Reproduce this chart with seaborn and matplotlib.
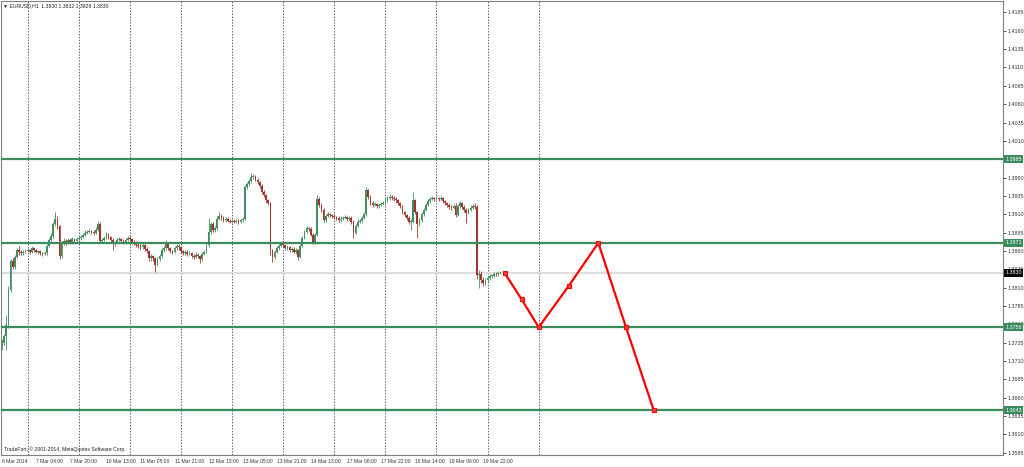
import numpy as np
import pandas as pd
import matplotlib
matplotlib.use("Agg")
import matplotlib.pyplot as plt
import matplotlib.transforms as mtransforms
import seaborn as sns

# EURUSD H1 candles, 6 Mar 2014 12:00 .. 20 Mar 2014 05:00
opens = [
    1.3729, 1.3735, 1.3744, 1.3759, 1.3807, 1.3846, 1.3838, 1.3852, 1.3861, 1.3859,
    1.3857, 1.3859, 1.3860, 1.3861, 1.3859, 1.3864, 1.3861, 1.3859, 1.3860, 1.3857,
    1.3856, 1.3857, 1.3867, 1.3875, 1.3880, 1.3897, 1.3904, 1.3894, 1.3853, 1.3871,
    1.3874, 1.3871, 1.3875, 1.3872, 1.3876, 1.3874, 1.3876, 1.3877, 1.3879, 1.3882,
    1.3885, 1.3886, 1.3887, 1.3886, 1.3885, 1.3889, 1.3897, 1.3874, 1.3875, 1.3878,
    1.3883, 1.3879, 1.3875, 1.3870, 1.3871, 1.3875, 1.3876, 1.3874, 1.3872, 1.3875,
    1.3878, 1.3876, 1.3872, 1.3871, 1.3868, 1.3867, 1.3865, 1.3868, 1.3863, 1.3860,
    1.3850, 1.3853, 1.3850, 1.3841, 1.3849, 1.3853, 1.3861, 1.3864, 1.3870, 1.3864,
    1.3860, 1.3859, 1.3864, 1.3867, 1.3865, 1.3860, 1.3857, 1.3859, 1.3856, 1.3857,
    1.3853, 1.3852, 1.3855, 1.3853, 1.3849, 1.3856, 1.3859, 1.3868, 1.3886, 1.3897,
    1.3889, 1.3891, 1.3904, 1.3908, 1.3905, 1.3902, 1.3904, 1.3901, 1.3900, 1.3901,
    1.3900, 1.3901, 1.3900, 1.3902, 1.3904, 1.3947, 1.3951, 1.3955, 1.3961, 1.3962,
    1.3957, 1.3954, 1.3949, 1.3940, 1.3936, 1.3929, 1.3925, 1.3861, 1.3852, 1.3859,
    1.3864, 1.3867, 1.3871, 1.3868, 1.3864, 1.3865, 1.3861, 1.3863, 1.3859, 1.3861,
    1.3852, 1.3867, 1.3878, 1.3886, 1.3891, 1.3890, 1.3882, 1.3872, 1.3882, 1.3931,
    1.3923, 1.3916, 1.3902, 1.3908, 1.3910, 1.3909, 1.3908, 1.3906, 1.3905, 1.3902,
    1.3904, 1.3905, 1.3906, 1.3904, 1.3905, 1.3900, 1.3885, 1.3894, 1.3900, 1.3901,
    1.3905, 1.3910, 1.3943, 1.3934, 1.3925, 1.3923, 1.3924, 1.3921, 1.3923, 1.3924,
    1.3925, 1.3929, 1.3932, 1.3934, 1.3932, 1.3931, 1.3929, 1.3925, 1.3921, 1.3913,
    1.3909, 1.3905, 1.3900, 1.3900, 1.3929, 1.3913, 1.3897, 1.3902, 1.3910, 1.3916,
    1.3923, 1.3928, 1.3931, 1.3932, 1.3931, 1.3932, 1.3931, 1.3932, 1.3928, 1.3925,
    1.3923, 1.3920, 1.3919, 1.3921, 1.3909, 1.3921, 1.3925, 1.3920, 1.3916, 1.3912,
    1.3916, 1.3919, 1.3921, 1.3920, 1.3827, 1.3829, 1.3820, 1.3816, 1.3820, 1.3823,
    1.3826, 1.3826, 1.3829, 1.3828, 1.3830,
]
highs = [
    1.3740, 1.3747, 1.3773, 1.3812, 1.3849, 1.3850, 1.3855, 1.3864, 1.3867, 1.3862,
    1.3861, 1.3863, 1.3864, 1.3863, 1.3867, 1.3866, 1.3863, 1.3862, 1.3862, 1.3859,
    1.3860, 1.3869, 1.3878, 1.3884, 1.3900, 1.3913, 1.3907, 1.3896, 1.3874, 1.3878,
    1.3876, 1.3878, 1.3877, 1.3879, 1.3878, 1.3879, 1.3880, 1.3882, 1.3885, 1.3888,
    1.3889, 1.3890, 1.3889, 1.3888, 1.3892, 1.3901, 1.3899, 1.3878, 1.3881, 1.3886,
    1.3885, 1.3881, 1.3877, 1.3874, 1.3878, 1.3879, 1.3878, 1.3876, 1.3878, 1.3881,
    1.3880, 1.3878, 1.3875, 1.3873, 1.3871, 1.3870, 1.3871, 1.3870, 1.3865, 1.3862,
    1.3856, 1.3855, 1.3852, 1.3852, 1.3856, 1.3864, 1.3867, 1.3875, 1.3872, 1.3866,
    1.3862, 1.3867, 1.3870, 1.3869, 1.3867, 1.3862, 1.3862, 1.3861, 1.3860, 1.3859,
    1.3856, 1.3858, 1.3857, 1.3855, 1.3859, 1.3862, 1.3871, 1.3905, 1.3900, 1.3899,
    1.3894, 1.3907, 1.3913, 1.3910, 1.3907, 1.3906, 1.3906, 1.3903, 1.3903, 1.3903,
    1.3903, 1.3903, 1.3904, 1.3906, 1.3950, 1.3954, 1.3958, 1.3966, 1.3965, 1.3964,
    1.3959, 1.3956, 1.3951, 1.3943, 1.3938, 1.3931, 1.3927, 1.3863, 1.3862, 1.3867,
    1.3870, 1.3874, 1.3873, 1.3870, 1.3868, 1.3867, 1.3866, 1.3865, 1.3864, 1.3863,
    1.3869, 1.3881, 1.3889, 1.3894, 1.3893, 1.3892, 1.3884, 1.3885, 1.3936, 1.3933,
    1.3925, 1.3918, 1.3911, 1.3913, 1.3912, 1.3911, 1.3910, 1.3908, 1.3907, 1.3907,
    1.3908, 1.3909, 1.3908, 1.3908, 1.3907, 1.3902, 1.3897, 1.3903, 1.3904, 1.3908,
    1.3913, 1.3947, 1.3945, 1.3936, 1.3928, 1.3927, 1.3926, 1.3926, 1.3927, 1.3928,
    1.3932, 1.3935, 1.3937, 1.3936, 1.3935, 1.3933, 1.3931, 1.3927, 1.3923, 1.3915,
    1.3911, 1.3907, 1.3903, 1.3940, 1.3931, 1.3915, 1.3905, 1.3913, 1.3919, 1.3926,
    1.3931, 1.3934, 1.3935, 1.3934, 1.3935, 1.3934, 1.3935, 1.3934, 1.3930, 1.3927,
    1.3925, 1.3922, 1.3924, 1.3926, 1.3924, 1.3928, 1.3927, 1.3922, 1.3918, 1.3919,
    1.3922, 1.3924, 1.3926, 1.3922, 1.3834, 1.3833, 1.3824, 1.3823, 1.3826, 1.3829,
    1.3829, 1.3832, 1.3831, 1.3833, 1.3832,
]
lows = [
    1.3725, 1.3732, 1.3725, 1.3755, 1.3804, 1.3835, 1.3836, 1.3850, 1.3855, 1.3855,
    1.3855, 1.3857, 1.3858, 1.3856, 1.3857, 1.3859, 1.3857, 1.3856, 1.3855, 1.3853,
    1.3854, 1.3855, 1.3865, 1.3872, 1.3878, 1.3894, 1.3890, 1.3849, 1.3850, 1.3868,
    1.3868, 1.3869, 1.3869, 1.3870, 1.3871, 1.3872, 1.3873, 1.3875, 1.3877, 1.3880,
    1.3883, 1.3884, 1.3883, 1.3882, 1.3883, 1.3887, 1.3871, 1.3871, 1.3873, 1.3876,
    1.3876, 1.3872, 1.3861, 1.3867, 1.3869, 1.3873, 1.3871, 1.3869, 1.3870, 1.3873,
    1.3873, 1.3869, 1.3868, 1.3865, 1.3864, 1.3862, 1.3863, 1.3860, 1.3857, 1.3846,
    1.3847, 1.3846, 1.3831, 1.3839, 1.3846, 1.3851, 1.3859, 1.3862, 1.3861, 1.3857,
    1.3856, 1.3857, 1.3862, 1.3862, 1.3857, 1.3854, 1.3855, 1.3853, 1.3854, 1.3850,
    1.3849, 1.3850, 1.3850, 1.3844, 1.3847, 1.3854, 1.3857, 1.3866, 1.3883, 1.3886,
    1.3886, 1.3889, 1.3902, 1.3902, 1.3899, 1.3900, 1.3899, 1.3898, 1.3898, 1.3898,
    1.3898, 1.3897, 1.3898, 1.3900, 1.3902, 1.3944, 1.3948, 1.3953, 1.3958, 1.3955,
    1.3951, 1.3946, 1.3937, 1.3933, 1.3926, 1.3922, 1.3855, 1.3845, 1.3849, 1.3857,
    1.3862, 1.3865, 1.3866, 1.3861, 1.3862, 1.3859, 1.3859, 1.3857, 1.3856, 1.3848,
    1.3850, 1.3865, 1.3876, 1.3884, 1.3887, 1.3880, 1.3870, 1.3870, 1.3880, 1.3920,
    1.3913, 1.3899, 1.3900, 1.3906, 1.3906, 1.3905, 1.3903, 1.3902, 1.3899, 1.3900,
    1.3902, 1.3903, 1.3901, 1.3902, 1.3897, 1.3878, 1.3883, 1.3892, 1.3898, 1.3899,
    1.3903, 1.3908, 1.3931, 1.3922, 1.3920, 1.3921, 1.3918, 1.3919, 1.3921, 1.3922,
    1.3923, 1.3927, 1.3930, 1.3929, 1.3928, 1.3926, 1.3922, 1.3918, 1.3910, 1.3906,
    1.3902, 1.3897, 1.3889, 1.3898, 1.3910, 1.3878, 1.3894, 1.3900, 1.3908, 1.3914,
    1.3921, 1.3926, 1.3929, 1.3928, 1.3929, 1.3928, 1.3929, 1.3925, 1.3922, 1.3920,
    1.3917, 1.3916, 1.3917, 1.3906, 1.3907, 1.3919, 1.3917, 1.3913, 1.3898, 1.3910,
    1.3914, 1.3917, 1.3917, 1.3822, 1.3810, 1.3817, 1.3812, 1.3813, 1.3818, 1.3821,
    1.3823, 1.3824, 1.3826, 1.3826, 1.3829,
]
closes = [
    1.3735, 1.3744, 1.3759, 1.3807, 1.3846, 1.3838, 1.3852, 1.3861, 1.3859, 1.3857,
    1.3859, 1.3860, 1.3861, 1.3859, 1.3864, 1.3861, 1.3859, 1.3860, 1.3857, 1.3856,
    1.3857, 1.3867, 1.3875, 1.3880, 1.3897, 1.3904, 1.3894, 1.3853, 1.3871, 1.3874,
    1.3871, 1.3875, 1.3872, 1.3876, 1.3874, 1.3876, 1.3877, 1.3879, 1.3882, 1.3885,
    1.3886, 1.3887, 1.3886, 1.3885, 1.3889, 1.3897, 1.3874, 1.3875, 1.3878, 1.3883,
    1.3879, 1.3875, 1.3870, 1.3871, 1.3875, 1.3876, 1.3874, 1.3872, 1.3875, 1.3878,
    1.3876, 1.3872, 1.3871, 1.3868, 1.3867, 1.3865, 1.3868, 1.3863, 1.3860, 1.3850,
    1.3853, 1.3850, 1.3841, 1.3849, 1.3853, 1.3861, 1.3864, 1.3870, 1.3864, 1.3860,
    1.3859, 1.3864, 1.3867, 1.3865, 1.3860, 1.3857, 1.3859, 1.3856, 1.3857, 1.3853,
    1.3852, 1.3855, 1.3853, 1.3849, 1.3856, 1.3859, 1.3868, 1.3886, 1.3897, 1.3889,
    1.3891, 1.3904, 1.3908, 1.3905, 1.3902, 1.3904, 1.3901, 1.3900, 1.3901, 1.3900,
    1.3901, 1.3900, 1.3902, 1.3904, 1.3947, 1.3951, 1.3955, 1.3961, 1.3962, 1.3957,
    1.3954, 1.3949, 1.3940, 1.3936, 1.3929, 1.3925, 1.3861, 1.3852, 1.3859, 1.3864,
    1.3867, 1.3871, 1.3868, 1.3864, 1.3865, 1.3861, 1.3863, 1.3859, 1.3861, 1.3852,
    1.3867, 1.3878, 1.3886, 1.3891, 1.3890, 1.3882, 1.3872, 1.3882, 1.3931, 1.3923,
    1.3916, 1.3902, 1.3908, 1.3910, 1.3909, 1.3908, 1.3906, 1.3905, 1.3902, 1.3904,
    1.3905, 1.3906, 1.3904, 1.3905, 1.3900, 1.3885, 1.3894, 1.3900, 1.3901, 1.3905,
    1.3910, 1.3943, 1.3934, 1.3925, 1.3923, 1.3924, 1.3921, 1.3923, 1.3924, 1.3925,
    1.3929, 1.3932, 1.3934, 1.3932, 1.3931, 1.3929, 1.3925, 1.3921, 1.3913, 1.3909,
    1.3905, 1.3900, 1.3900, 1.3929, 1.3913, 1.3897, 1.3902, 1.3910, 1.3916, 1.3923,
    1.3928, 1.3931, 1.3932, 1.3931, 1.3932, 1.3931, 1.3932, 1.3928, 1.3925, 1.3923,
    1.3920, 1.3919, 1.3921, 1.3909, 1.3921, 1.3925, 1.3920, 1.3916, 1.3912, 1.3916,
    1.3919, 1.3921, 1.3920, 1.3827, 1.3829, 1.3820, 1.3816, 1.3820, 1.3823, 1.3826,
    1.3826, 1.3829, 1.3828, 1.3830, 1.3830,
]

# horizontal support / resistance levels and their labels
levels = [1.3985, 1.3871, 1.3756, 1.3643]
level_labels = ["1.3985", "1.3871", "1.3756", "1.3643"]
bid_price = 1.3830

# hand drawn forecast path (bar index, price)
fc_bars = [236, 244, 252, 266, 280, 293, 306]
fc_prices = [1.3830, 1.3794, 1.3756, 1.3812, 1.3871, 1.3756, 1.3643]

# day separators (bar index of each midnight)
day_bars = [12, 36, 60, 84, 108, 132, 156, 180, 204, 228, 252]

# time axis labels
xtick_bars = [0, 16, 32, 49, 65, 81, 97, 113, 129, 145, 162, 178, 194, 210, 226]
xtick_labels = ["6 Mar 2014", "7 Mar 04:00", "7 Mar 20:00", "10 Mar 13:00",
                "11 Mar 05:00", "11 Mar 21:00", "12 Mar 13:00", "13 Mar 05:00",
                "13 Mar 21:00", "14 Mar 13:00", "17 Mar 06:00", "17 Mar 22:00",
                "18 Mar 14:00", "19 Mar 06:00", "19 Mar 22:00"]

# price axis labels
ytick_values = [1.3585, 1.3610, 1.3635, 1.3660, 1.3685, 1.3710, 1.3735, 1.3760,
                1.3785, 1.3810, 1.3835, 1.3860, 1.3885, 1.3910, 1.3935, 1.3960,
                1.3985, 1.4010, 1.4035, 1.4060, 1.4085, 1.4110, 1.4135, 1.4160,
                1.4185]
ytick_labels = ["%.4f" % v for v in ytick_values]

df = pd.DataFrame({"open": opens, "high": highs, "low": lows, "close": closes})
df["bar"] = np.arange(len(df))
df["up"] = df["close"] >= df["open"]

UP = "#3f8f5f"
DOWN = "#a3342c"
LEVEL = "#3a8c5c"

sns.set_style("white")
plt.rcParams['font.family'] = ['Liberation Sans', 'DejaVu Sans']

fig = plt.figure(figsize=(10.24, 4.67), dpi=100)
ax = fig.add_axes([1 / 1024, 12 / 467, 1002 / 1024, 454 / 467])

# day separators
for b in day_bars:
    ax.axvline(b, color="#666666", lw=0.7, ls=(0, (1.5, 1.5)), zorder=0.5)

# bid line
ax.axhline(bid_price, color="#dddddd", lw=1.4, zorder=0.6)

# candles
colors = np.where(df["up"], UP, DOWN)
ax.vlines(df["bar"], df["low"], df["high"], colors=colors, lw=0.7, alpha=0.85, zorder=2)
body_lo = np.minimum(df["open"], df["close"])
body_h = np.maximum(np.abs(df["close"] - df["open"]), 0.00008)
ax.bar(df["bar"], body_h, bottom=body_lo, width=0.8, color=colors, linewidth=0, zorder=2.5)

# horizontal levels
for lv in levels:
    ax.axhline(lv, color=LEVEL, lw=1.6, zorder=3)

# forecast path
sns.lineplot(x=fc_bars, y=fc_prices, ax=ax, color="#ff0000", lw=1.6, marker="s",
             markersize=3.2, markeredgecolor="#ff0000", markerfacecolor="#ff4040",
             markeredgewidth=0.8, zorder=5, sort=False)

ax.set_xlim(-0.47, 470)
ax.set_ylim(1.35820, 1.42006)

ax.yaxis.tick_right()
ax.set_yticks(ytick_values)
ax.set_yticklabels(ytick_labels)
ax.set_xticks(xtick_bars)
ax.set_xticklabels(xtick_labels, ha="left")
ax.tick_params(axis="y", direction="out", length=2, width=0.6, pad=1,
               labelsize=3.9, colors="#333333")
ax.tick_params(axis="x", direction="out", length=2, width=0.6, pad=1,
               labelsize=3.6, colors="#333333")
ax.set_xlabel("")
ax.set_ylabel("")
for s in ax.spines.values():
    s.set_color("#808080")
    s.set_linewidth(0.8)

# price boxes on the right scale
trans = mtransforms.blended_transform_factory(ax.transAxes, ax.transData)
for lv, txt in zip(levels, level_labels):
    ax.text(1.0025, lv, txt, transform=trans, ha="left", va="center", fontsize=3.9,
            color="white", clip_on=False, zorder=10,
            bbox=dict(boxstyle="square,pad=0.25", fc=LEVEL, ec="none"))
ax.text(1.0025, bid_price, "%.4f" % bid_price, transform=trans, ha="left", va="center",
        fontsize=3.9, color="white", clip_on=False, zorder=10,
        bbox=dict(boxstyle="square,pad=0.25", fc="black", ec="none"))

fig.text(3 / 1024, 1 - 6 / 467, "\u25bc EURUSD,H1  1.3830 1.3832 1.3829 1.3830",
         fontsize=3.7, va="center", ha="left", color="#222222")
fig.text(4 / 1024, 1 - 449 / 467, "TradeFort, \u00a9 2001-2014, MetaQuotes Software Corp.",
         fontsize=3.7, va="center", ha="left", color="#222222")

fig.savefig("out.png", dpi=100, facecolor="white")
